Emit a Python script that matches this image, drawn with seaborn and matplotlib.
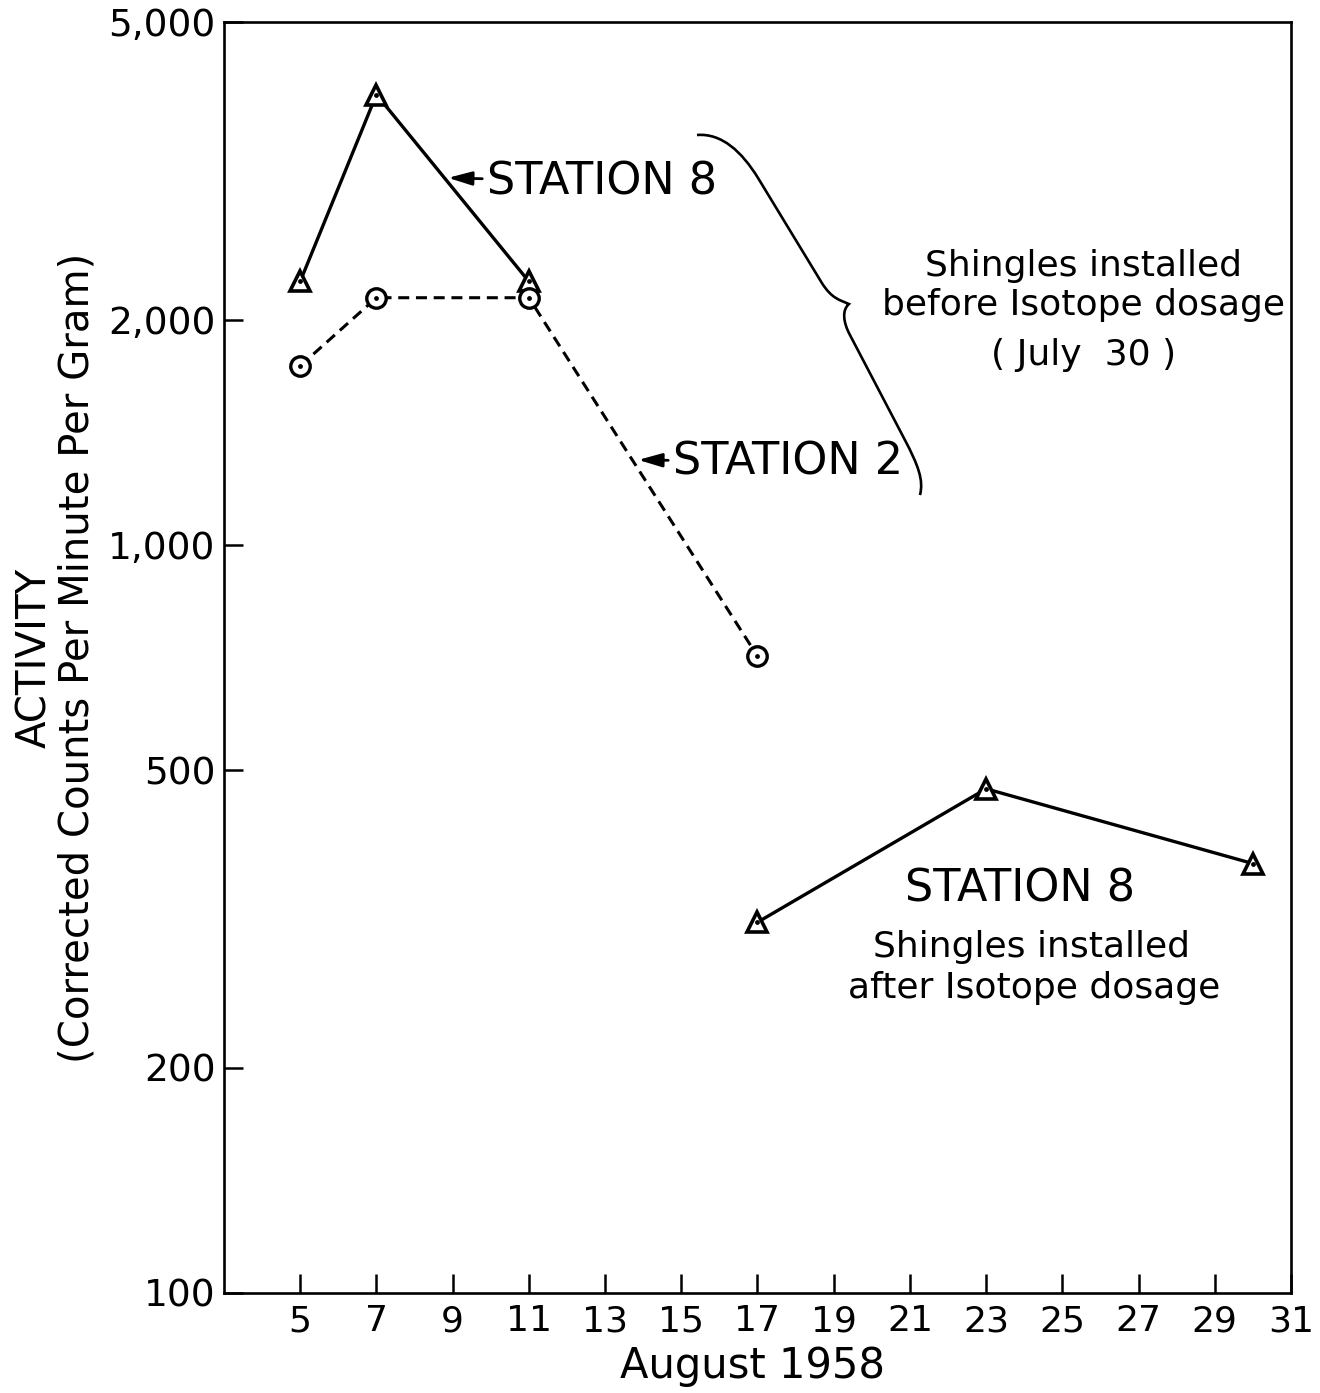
import matplotlib
matplotlib.use("Agg")
import matplotlib.pyplot as plt
from matplotlib.path import Path
from matplotlib.patches import PathPatch
import seaborn as sns
import pandas as pd

# ---- data ----
days_s8_before = [5, 7, 11]
act_s8_before = [2250, 4000, 2250]
days_s2 = [5, 7, 11, 17]
act_s2 = [1735, 2140, 2140, 710]
days_s8_after = [17, 23, 30]
act_s8_after = [313, 472, 375]

x_ticks = list(range(5, 32, 2))
y_ticks = [100, 200, 500, 1000, 2000, 5000]
y_ticklabels = ["100", "200", "500", "1,000", "2,000", "5,000"]

df = pd.concat([
    pd.DataFrame({"day": days_s8_before, "activity": act_s8_before, "series": "S8 before"}),
    pd.DataFrame({"day": days_s2, "activity": act_s2, "series": "S2"}),
    pd.DataFrame({"day": days_s8_after, "activity": act_s8_after, "series": "S8 after"}),
], ignore_index=True)

sns.set_style("ticks")
plt.rcParams["font.family"] = ["DejaVu Sans"]
plt.rcParams["text.color"] = "black"
plt.rcParams["axes.labelcolor"] = "black"
plt.rcParams["xtick.color"] = "black"
plt.rcParams["ytick.color"] = "black"

fig = plt.figure(figsize=(13.2, 13.93), dpi=100)
ax = fig.add_axes([0.1697, 0.0718, 0.8083, 0.9124])

tri_kw = dict(marker="^", markersize=14.5, markerfacecolor="white",
              markeredgecolor="black", markeredgewidth=2.6)
circ_kw = dict(marker="o", markersize=14, markerfacecolor="white",
               markeredgecolor="black", markeredgewidth=2.4)

sns.lineplot(data=df[df.series == "S8 before"], x="day", y="activity", ax=ax,
             color="black", linewidth=2.4, **tri_kw)
sns.lineplot(data=df[df.series == "S2"], x="day", y="activity", ax=ax,
             color="black", linewidth=2.2, linestyle=(0, (3.6, 2.2)), **circ_kw)
sns.lineplot(data=df[df.series == "S8 after"], x="day", y="activity", ax=ax,
             color="black", linewidth=2.4, **tri_kw)
# centre dots inside markers
sns.scatterplot(data=df, x="day", y="activity", ax=ax, color="black",
                s=12, marker="o", linewidth=0, zorder=5, legend=False)

ax.set_yscale("log")
ax.set_xlim(3, 31)
ax.set_ylim(100, 5000)
ax.set_xticks(x_ticks)
ax.set_xticklabels([str(t) for t in x_ticks])
ax.set_yticks(y_ticks)
ax.set_yticklabels(y_ticklabels)
ax.yaxis.set_minor_locator(matplotlib.ticker.NullLocator())
ax.xaxis.set_minor_locator(matplotlib.ticker.NullLocator())

for sp in ax.spines.values():
    sp.set_visible(True)
    sp.set_linewidth(1.9)
    sp.set_color("black")

ax.tick_params(axis="both", direction="in", length=14, width=1.8, color="black",
               labelcolor="black")
ax.tick_params(axis="y", labelsize=27, pad=6)
ax.tick_params(axis="x", labelsize=26, pad=8)

ax.set_xlabel("August 1958", fontsize=30, color="black")
ax.xaxis.set_label_coords(0.495, -0.041)
ax.set_ylabel("ACTIVITY\n(Corrected Counts Per Minute Per Gram)", fontsize=29,
              linespacing=1.05, color="black")
ax.yaxis.set_label_coords(-0.119, 0.5)

# ---- annotations ----
arrow = dict(arrowstyle="-|>,head_length=0.45,head_width=0.13", color="black",
             lw=2.0, shrinkA=1, shrinkB=0)
ax.annotate("STATION 8", xy=(8.88, 3095), xytext=(9.9, 3057), fontsize=32,
            ha="left", va="center", arrowprops=arrow, color="black")
ax.annotate("STATION 2", xy=(13.87, 1299), xytext=(14.78, 1291), fontsize=32,
            ha="left", va="center", arrowprops=arrow, color="black")

ax.text(25.55, 2361, "Shingles installed", fontsize=26, ha="center", va="center")
ax.text(25.55, 2094, "before Isotope dosage", fontsize=26, ha="center", va="center")
ax.text(25.55, 1795, "( July  30 )", fontsize=26, ha="center", va="center")

ax.text(23.9, 347, "STATION 8", fontsize=32, ha="center", va="center")
ax.text(24.18, 290, "Shingles installed", fontsize=26, ha="center", va="center")
ax.text(24.26, 256, "after Isotope dosage", fontsize=26, ha="center", va="center")

# curly brace (decoration), axes-fraction coordinates
verts = [(0.4433, 0.9111),
         (0.4667, 0.9127), (0.4855, 0.8977), (0.5005, 0.8773),
         (0.5604, 0.7946),
         (0.5698, 0.7821), (0.5773, 0.7813), (0.5857, 0.7781),
         (0.5792, 0.7734), (0.5801, 0.7640), (0.5867, 0.7537),
         (0.6382, 0.6711),
         (0.6504, 0.6515), (0.6560, 0.6396), (0.6523, 0.6278)]
codes = [Path.MOVETO,
         Path.CURVE4, Path.CURVE4, Path.CURVE4,
         Path.LINETO,
         Path.CURVE4, Path.CURVE4, Path.CURVE4,
         Path.CURVE4, Path.CURVE4, Path.CURVE4,
         Path.LINETO,
         Path.CURVE4, Path.CURVE4, Path.CURVE4]
ax.add_patch(PathPatch(Path(verts, codes), transform=ax.transAxes,
                       facecolor="none", edgecolor="black", lw=1.9))

fig.savefig("out.png", dpi=100)
